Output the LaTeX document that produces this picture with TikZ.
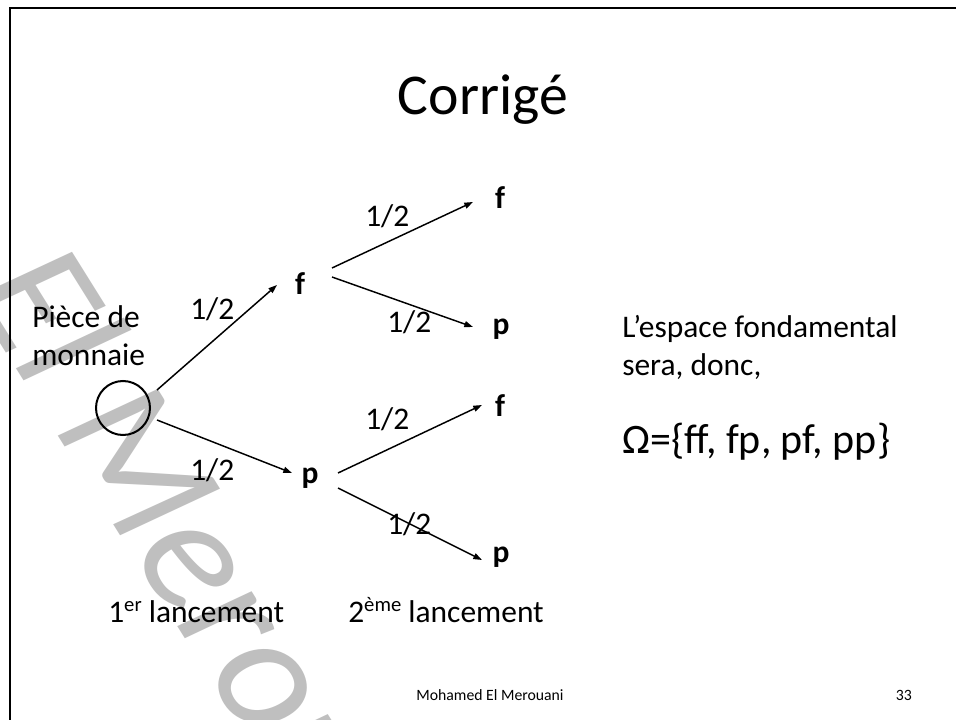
\documentclass[tikz,border=0pt]{standalone}
\usepackage{fontspec}
\setmainfont{Carlito}
\usetikzlibrary{arrows.meta}
\newcommand\myexp[1]{\raisebox{0.32em}{\fontsize{15.5}{16}\selectfont #1}}
\begin{document}
\begin{tikzpicture}[x=0.75pt,y=-0.75pt,
  txt/.style={inner sep=0pt, font=\fontsize{23.6}{28.5}\selectfont},
  leaf/.style={inner sep=0pt, anchor=base, font=\fontsize{23.6}{28.5}\selectfont\bfseries},
  prob/.style={inner sep=0pt, anchor=base west, font=\fontsize{23.6}{28.5}\selectfont},
  arr/.style={line width=1.1pt, -{Triangle[length=6.5pt,width=4.5pt]}},
  frame/.style={line width=1.9pt},
  coinst/.style={draw, circle, minimum size=40.5pt, inner sep=0pt, line width=1.5pt},
]
\useasboundingbox (0,0) rectangle (956,720);
% watermark
\node[rotate=-58, text=black!25, font=\fontsize{128}{128}\selectfont\itshape, inner sep=0pt] (wm) at (240,616) {El Merouani};
% frame
\coordinate (fa) at (10,720);
\coordinate (fb) at (10,8);
\coordinate (fc) at (956,8);
\draw[frame] (fa) -- (fb) -- (fc);
% texts
\node[inner sep=0pt, anchor=base, font=\fontsize{43.3}{52}\selectfont] (title) at (483,115) {Corrigé};
\node[txt, anchor=base west, align=left] (piece) at (32,365) {Pièce de\\monnaie};
\node[txt, anchor=base west, align=left] (espace) at (622,375) {L’espace fondamental\\sera, donc,};
\node[inner sep=0pt, anchor=base west, font=\fontsize{31.5}{38}\selectfont] (omega) at (622,453) {Ω=\{ff, fp, pf, pp\}};
\node[txt, anchor=base west] (l1) at (108,622) {1\myexp{er} lancement};
\node[txt, anchor=base west] (l2) at (348,622) {2\myexp{ème} lancement};
\node[inner sep=0pt, anchor=base, font=\fontsize{11.8}{14}\selectfont] (author) at (490,700) {Mohamed El Merouani};
\node[inner sep=0pt, anchor=base east, font=\fontsize{11.8}{14}\selectfont] (page) at (912,700) {33};
% tree
\node[coinst] (coin) at (123,408) {};
\node[leaf] (f1) at (300,294) {f};
\node[leaf] (p1) at (310,483) {p};
\node[leaf] (ff) at (500,209) {f};
\node[leaf] (fp) at (501,334) {p};
\node[leaf] (pf) at (500,416) {f};
\node[leaf] (pp) at (501,562) {p};
\draw[arr] ([shift={(34,-18)}]coin.center) -- ([shift={(-23,-9)}]f1.base);
\draw[arr] ([shift={(34,12)}]coin.center) -- ([shift={(-18,-10)}]p1.base);
\draw[arr] ([shift={(32,-26)}]f1.base) -- ([shift={(-27,-7)}]ff.base);
\draw[arr] ([shift={(32,-17)}]f1.base) -- ([shift={(-28,-7)}]fp.base);
\draw[arr] ([shift={(28,-10)}]p1.base) -- ([shift={(-18,-11)}]pf.base);
\draw[arr] ([shift={(28,5)}]p1.base) -- ([shift={(-19,-2)}]pp.base);
\node[prob] (h1) at (190,319) {1/2};
\node[prob] (h2) at (190,480) {1/2};
\node[prob] (h3) at (365,227) {1/2};
\node[prob] (h4) at (387,332) {1/2};
\node[prob] (h5) at (365,429) {1/2};
\node[prob] (h6) at (387,534) {1/2};
\end{tikzpicture}
\end{document}
